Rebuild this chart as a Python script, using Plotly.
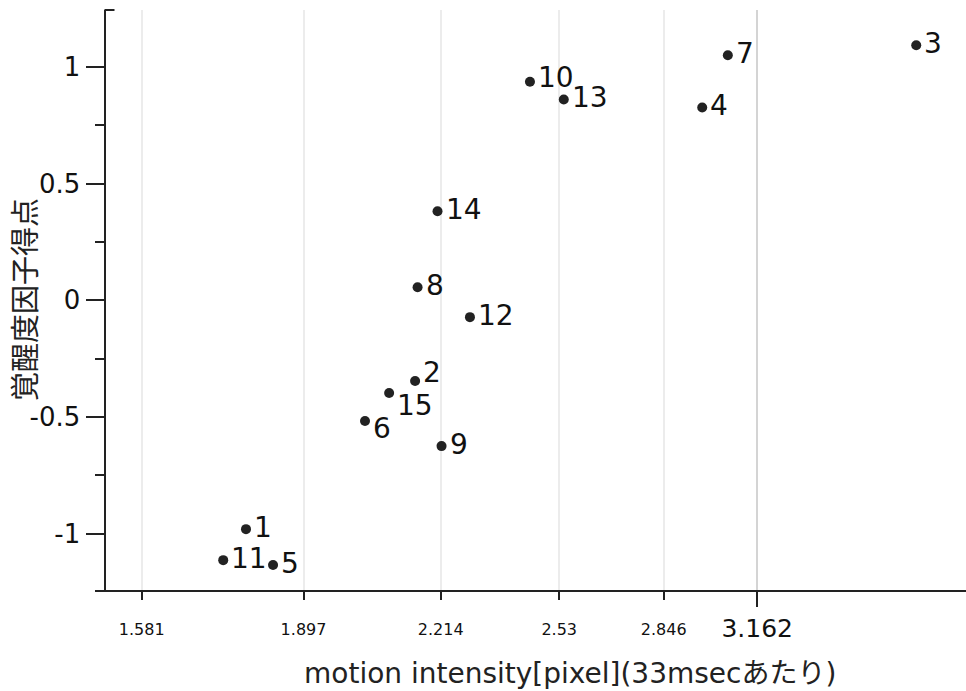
import math
import plotly.graph_objects as go

# Subject id, motion intensity (pixel per 33 msec) and arousal factor score
subject_ids = ["1", "2", "3", "4", "5", "6", "7", "8", "9", "10", "11", "12", "13", "14", "15"]
motion_intensity = [1.778, 2.151, 3.782, 2.972, 1.833, 2.033, 3.059, 2.157, 2.216,
                    2.448, 1.733, 2.288, 2.543, 2.206, 2.089]
arousal_score = [-0.981, -0.346, 1.094, 0.827, -1.135, -0.517, 1.051, 0.056, -0.625,
                 0.937, -1.114, -0.072, 0.861, 0.382, -0.397]

x_tick_vals = [1.581, 1.897, 2.214, 2.53, 2.846]
x_tick_text = ["1.581", "1.897", "2.214", "2.53", "2.846"]
x_ref_val = [3.162]
x_ref_text = ["3.162"]
y_tick_vals = [-1, -0.5, 0, 0.5, 1]
y_tick_text = ["-1", "-0.5", "0", "0.5", "1"]
y_minor_vals = [-0.75, -0.25, 0.25, 0.75]

x_title = "motion intensity[pixel](33msecあたり)"
y_title = "覚醒度因子得点"

# vertical nudges (px) for labels that would otherwise collide
label_nudge = {"2": 9, "15": -13, "6": -8, "10": 4}
LABEL_LIFT = 2

FONT = "DejaVu Sans, Noto Sans CJK JP, sans-serif"
INK = "#222222"
TXT = "#111111"
W, H = 966, 691
L, R, T, B = 95, 0, 10, 101
PW, PH = W - L - R, H - T - B
x_range = [math.log10(1.5), math.log10(4.0)]
y_range = [-1.242, 1.245]
yaxis_pos = 9.5 / PW

fig = go.Figure()
fig.add_trace(go.Scatter(
    x=motion_intensity, y=arousal_score, mode="markers",
    marker=dict(size=10, color=INK),
    xaxis="x", yaxis="y", hoverinfo="skip", showlegend=False,
))
# companion trace so the reference-tick axis is drawn
fig.add_trace(go.Scatter(
    x=motion_intensity, y=arousal_score, mode="markers",
    marker=dict(size=1, opacity=0), xaxis="x2", yaxis="y",
    hoverinfo="skip", showlegend=False,
))

annotations = [
    dict(text=sid, xref="x", yref="y", x=math.log10(mx), y=ay,
         xanchor="left", yanchor="middle", showarrow=False,
         xshift=6, yshift=label_nudge.get(sid, LABEL_LIFT),
         font=dict(family=FONT, size=28, color=TXT))
    for sid, mx, ay in zip(subject_ids, motion_intensity, arousal_score)
]
annotations += [
    dict(text=x_title, xref="paper", yref="paper",
         x=(570 - L) / PW, y=(590 - 673) / PH,
         xanchor="center", yanchor="middle", showarrow=False,
         font=dict(family=FONT, size=28, color="#222222")),
    dict(text=y_title, xref="paper", yref="paper",
         x=(26 - L) / PW, y=(590 - 300) / PH,
         xanchor="center", yanchor="middle", showarrow=False, textangle=-90,
         font=dict(family=FONT, size=29, color="#222222")),
]

fig.update_layout(
    width=W, height=H,
    margin=dict(l=L, r=R, t=T, b=B, pad=0),
    paper_bgcolor="white", plot_bgcolor="white",
    font=dict(family=FONT, color=TXT),
    xaxis=dict(
        type="log", range=x_range, anchor="y",
        tickmode="array", tickvals=x_tick_vals, ticktext=x_tick_text,
        ticks="outside", ticklen=8, tickwidth=2, tickcolor=INK,
        tickfont=dict(size=16, color=TXT), ticklabelstandoff=16,
        showline=True, linewidth=2, linecolor=INK,
        showgrid=True, gridcolor="#ececec", gridwidth=2, zeroline=False,
    ),
    xaxis2=dict(
        type="log", range=x_range, overlaying="x", anchor="y", side="bottom",
        tickmode="array", tickvals=x_ref_val, ticktext=x_ref_text,
        ticks="outside", ticklen=16, tickwidth=2, tickcolor=INK,
        tickfont=dict(size=25, color=TXT), ticklabelstandoff=0,
        showline=False, showgrid=True, gridcolor="#d4d4d4", gridwidth=2,
        zeroline=False,
    ),
    yaxis=dict(
        range=y_range, anchor="free", position=yaxis_pos,
        tickmode="array", tickvals=y_tick_vals, ticktext=y_tick_text,
        ticks="outside", ticklen=18, tickwidth=2, tickcolor=INK,
        tickfont=dict(size=26, color=TXT),
        minor=dict(tickmode="array", tickvals=y_minor_vals, ticks="outside",
                   ticklen=9, tickwidth=2, tickcolor=INK, showgrid=False),
        showline=True, linewidth=2, linecolor=INK,
        showgrid=False, zeroline=False,
    ),
    shapes=[dict(type="line", xref="paper", yref="paper",
                 x0=yaxis_pos, x1=yaxis_pos + 10 / PW, y0=1, y1=1,
                 line=dict(color=INK, width=2))],
    annotations=annotations,
)

fig.write_html("out.html")
